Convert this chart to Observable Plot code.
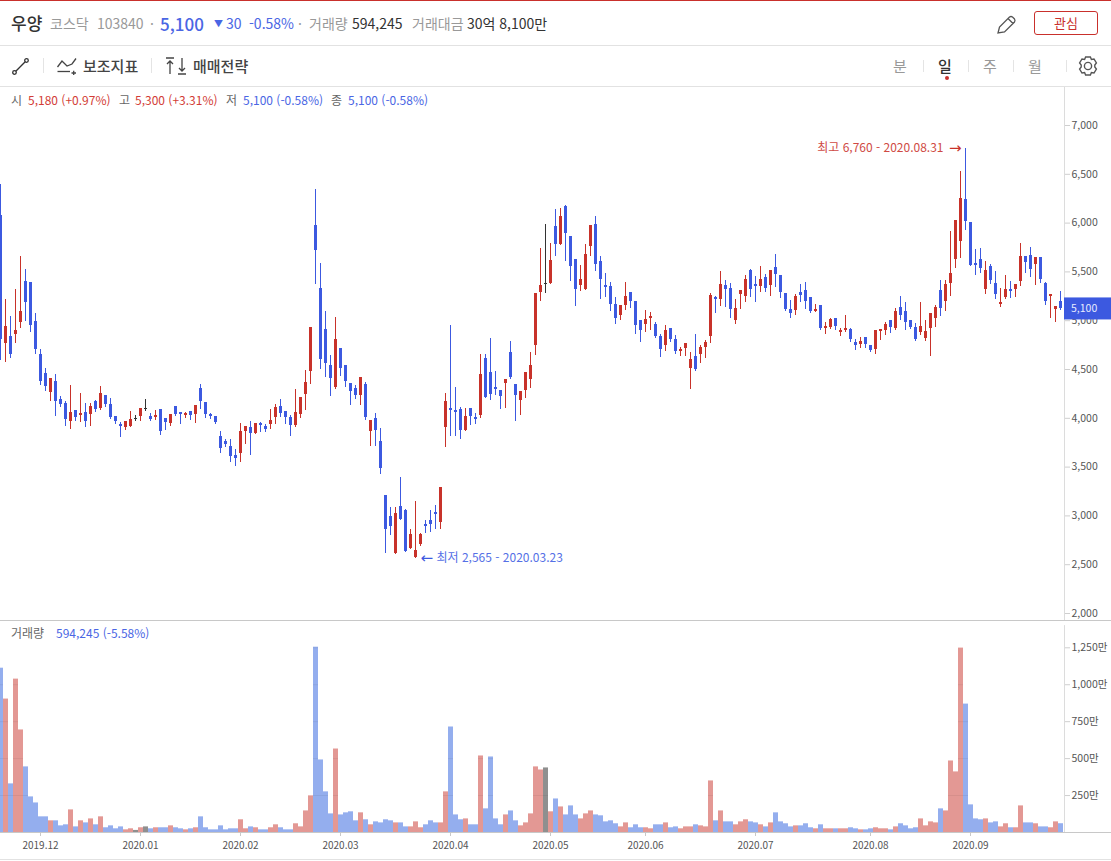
<!DOCTYPE html>
<html lang="ko">
<head>
<meta charset="utf-8">
<title>우양 일봉 차트</title>
<script src="https://cdn.jsdelivr.net/npm/d3@7"></script>
<script src="https://cdn.jsdelivr.net/npm/@observablehq/plot@0.6"></script>
<style>
html,body{margin:0;padding:0;background:#fff;}
body{width:1111px;height:861px;overflow:hidden;position:relative;font-family:"Noto Sans CJK KR","Noto Sans",sans-serif;}
#head{position:relative;height:87px;box-sizing:border-box;border-top:1px solid #c9302c;}
#head .l1{position:absolute;left:0;right:0;top:44px;height:1px;background:#e2e2e2;}
#head .l2{position:absolute;left:0;right:0;top:85px;height:1px;background:#e2e2e2;}
.t{position:absolute;white-space:nowrap;line-height:1;}
.sep{position:absolute;width:1px;height:15px;top:57px;background:#e4e4e4;}
.sep.s{height:12px;top:59px;}
.g{color:#999}.d{color:#333}.b{color:#4a66e4}.r{color:#d23c36}
.m{color:#666}
#btn{position:absolute;left:1034px;top:10px;width:62px;height:22px;border:1px solid #c9302c;border-radius:3px;color:#c9302c;font-size:13px;line-height:22px;text-align:center;}
#dot{position:absolute;left:945px;top:75px;width:4px;height:4px;border-radius:50%;background:#c9302c;}
svg.ic{position:absolute;overflow:visible;}
#ohlc,#vollab{position:absolute;z-index:2;font-size:12px;}
#price,#vol{display:block;line-height:0;}
#vol{border-top:1px solid #c8c8c8;border-bottom:1px solid #e2e2e2;}
</style>
</head>
<body>
<div id="head">
  <span class="t d" style="left:11px;top:13px;font-size:17px;font-weight:500">우양</span>
  <span class="t g" style="left:50px;top:15px;font-size:14px">코스닥</span>
  <span class="t g" style="left:97px;top:15px;font-size:14px">103840</span>
  <span class="t g" style="left:150px;top:15px;font-size:14px">·</span>
  <span class="t b" style="left:160px;top:14px;font-size:17px;font-weight:500">5,100</span>
  <span class="t b" style="left:214px;top:18px;font-size:9px">▼</span>
  <span class="t b" style="left:226px;top:15px;font-size:14px">30</span>
  <span class="t b" style="left:249px;top:15px;font-size:14px">-0.58%</span>
  <span class="t g" style="left:298px;top:15px;font-size:14px">·</span>
  <span class="t g" style="left:309px;top:15px;font-size:14px">거래량</span>
  <span class="t d" style="left:352px;top:15px;font-size:14px">594,245</span>
  <span class="t g" style="left:412px;top:15px;font-size:14px">거래대금</span>
  <span class="t d" style="left:467px;top:15px;font-size:14px">30억 8,100만</span>
  <svg class="ic" style="left:997px;top:14px" width="20" height="20" viewBox="0 0 20 20" fill="none" stroke="#555" stroke-width="1.3">
    <path d="M1 18 L2.5 12 L12.5 2 Q14 1 15.5 2 L17.5 4 Q18.5 5.5 17.5 7 L7.5 17 Z M11 3.5 L16 8.5"/>
  </svg>
  <div id="btn">관심</div>
  <div class="l1"></div>

  <svg class="ic" style="left:12px;top:57px" width="17" height="17" viewBox="0 0 17 17" fill="none" stroke="#333" stroke-width="1.3">
    <circle cx="2.5" cy="14.5" r="1.8"/><circle cx="14.5" cy="2.5" r="1.8"/><path d="M3.8 13.2 L13.2 3.8"/>
  </svg>
  <div class="sep" style="left:43px"></div>
  <svg class="ic" style="left:57px;top:57px" width="20" height="17" viewBox="0 0 20 17" fill="none" stroke="#444" stroke-width="1.3">
    <path d="M0.5 9 L5 3 L10 8 L15 6 L19 0.5"/><path d="M0.5 13.5 H13"/><path d="M14.5 15 H19 M16.7 12.8 V17"/>
  </svg>
  <span class="t" style="left:83px;top:57px;font-size:15px;font-weight:500;color:#444">보조지표</span>
  <div class="sep" style="left:151px"></div>
  <svg class="ic" style="left:165px;top:56px" width="22" height="18" viewBox="0 0 22 18" fill="none" stroke="#444" stroke-width="1.3">
    <path d="M1 1 H9 M5 17 V4 M2 7 L5 4 L8 7"/><path d="M13 17 H21 M17 1 V14 M14 11 L17 14 L20 11"/>
  </svg>
  <span class="t" style="left:193px;top:57px;font-size:15px;font-weight:500;color:#444">매매전략</span>

  <span class="t g" style="left:893px;top:57px;font-size:15px">분</span>
  <div class="sep s" style="left:923px"></div>
  <span class="t d" style="left:938px;top:57px;font-size:15px;font-weight:500">일</span>
  <div id="dot"></div>
  <div class="sep s" style="left:968px"></div>
  <span class="t g" style="left:983px;top:57px;font-size:15px">주</span>
  <div class="sep s" style="left:1013px"></div>
  <span class="t g" style="left:1028px;top:57px;font-size:15px">월</span>
  <div class="sep s" style="left:1066px"></div>
  <svg class="ic" style="left:1078px;top:55px" width="20" height="20" viewBox="0 0 20 20" fill="none" stroke="#555" stroke-width="1.4">
    <path d="M7.6 1 H12.4 L13.4 3.4 L16 3 L18.4 7 L16.8 9 V11 L18.4 13 L16 17 L13.4 16.6 L12.4 19 H7.6 L6.6 16.6 L4 17 L1.6 13 L3.2 11 V9 L1.6 7 L4 3 L6.6 3.4 Z"/>
    <circle cx="10" cy="10" r="3.6"/>
  </svg>
  <div class="l2"></div>
</div>

<div id="ohlc" style="left:0;top:87px;width:500px;height:26px">
  <span class="t m" style="left:11px;top:7px">시</span><span class="t r" style="left:28px;top:7px">5,180 (+0.97%)</span>
  <span class="t m" style="left:119px;top:7px">고</span><span class="t r" style="left:135px;top:7px">5,300 (+3.31%)</span>
  <span class="t m" style="left:226px;top:7px">저</span><span class="t b" style="left:243px;top:7px">5,100 (-0.58%)</span>
  <span class="t m" style="left:331px;top:7px">종</span><span class="t b" style="left:348px;top:7px">5,100 (-0.58%)</span>
</div>
<div id="price"></div>
<div id="vollab" style="left:0;top:621px;width:300px;height:26px">
  <span class="t m" style="left:11px;top:6px">거래량</span><span class="t b" style="left:56px;top:6px">594,245 (-5.58%)</span>
</div>
<div id="vol"></div>

<script>
// 시가 / 고가 / 저가 / 종가 (원), 거래량 (만주) — 일봉 213개
const opens = [
6078,4767,4838,4859,4982,5402,5392,4992,4654,4459,
4265,4377,4193,4152,3967,4080,4029,4060,4039,4172,
4101,4234,4142,4019,3937,3906,3916,3995,4019,4097,
4019,4008,4090,3998,3947,4121,4060,4029,4070,4039,
4306,4162,4039,4019,3814,3763,3711,3619,3640,3865,
3906,3845,3947,3916,3937,4008,4121,4070,4008,3927,
4039,4244,4480,5975,5330,4910,4541,4316,4715,4541,
4357,4306,4234,4347,3865,3998,3763,3209,2994,2615,
3097,3056,2666,2574,2707,2912,2953,3035,2933,3906,
4101,4080,4090,3875,4101,4008,4029,4613,4469,4316,
4285,4357,4674,4347,4183,4285,4398,4746,5289,5378,
5381,5965,5781,6170,5863,5627,5361,5320,5760,5986,
5607,5361,5350,5166,5053,5156,5289,5197,5002,4961,
5023,4961,4838,4746,4920,4807,4685,4715,4510,4633,
4654,4726,4838,5238,5217,5361,5330,5002,5269,5248,
5514,5371,5350,5443,5361,5545,5463,5279,5115,5105,
5289,5310,5238,5095,5156,4920,4931,5023,4880,4900,
4910,4777,4757,4828,4746,4705,4890,4900,5002,4920,
5136,5095,5002,4931,4880,4818,4920,5023,5310,5197,
5381,5627,5812,6242,6006,5586,5627,5320,5556,5381,
5166,5238,5320,5320,5402,5658,5668,5576,5648,5381,
5248,5115,5197];
const highs = [
6396,5217,5043,5320,5658,5525,5392,5074,4705,4510,
4408,4449,4224,4172,4336,4080,4254,4152,4152,4183,
4326,4234,4203,4019,3957,3967,4070,4029,4101,4193,
4049,4080,4090,3998,4039,4121,4060,4060,4070,4131,
4347,4162,4049,4019,3865,3783,3783,3681,3947,3916,
3967,3947,3957,3937,4090,4142,4193,4070,4029,4295,
4213,4490,4931,6344,5586,5094,4644,5033,4715,4541,
4357,4336,4418,4367,3978,4049,3896,3209,3086,3086,
3394,3066,2861,3148,2820,2953,3056,3107,3291,4254,
4951,4316,4111,4101,4101,4049,4654,4654,4818,4480,
4285,4398,4787,4347,4275,4469,4674,5279,5740,5986,
5791,6139,6150,6180,5863,5627,5566,5781,5975,6068,
5658,5484,5391,5238,5156,5391,5289,5197,5002,5105,
5084,4982,4859,4951,4920,4848,4726,4767,4674,4859,
4746,4797,5279,5248,5504,5412,5381,5217,5309,5463,
5525,5453,5555,5473,5514,5678,5463,5279,5207,5269,
5371,5392,5238,5166,5156,4982,5023,5023,4920,5054,
4920,4808,4828,4828,4746,4900,4910,4982,5002,5125,
5248,5187,5002,4972,5187,5002,5074,5156,5412,5412,
5914,6027,6529,6760,6006,5730,5740,5607,5576,5504,
5330,5463,5402,5371,5791,5658,5750,5648,5648,5392,
5269,5146,5300];
const lows = [
4592,4572,4613,4767,4920,4992,4879,4654,4336,4275,
4172,4019,4111,3916,3886,3967,3957,3906,3916,4060,
4080,4111,3988,3937,3804,3875,3906,3967,3967,4070,
3967,3978,3824,3875,3916,4019,3937,3998,3978,3947,
4090,3998,3988,3937,3640,3701,3547,3506,3547,3732,
3619,3834,3855,3855,3886,3937,4008,3937,3814,3906,
3998,4080,4347,5371,4500,4418,4224,4295,4429,4316,
4131,4193,4131,3978,3711,3711,3425,2615,2800,2605,
2953,2625,2656,2565,2687,2820,2830,2861,2861,3701,
3814,3814,3783,3865,3927,3937,3998,4203,4183,4234,
4090,4101,4398,3967,4029,4203,4306,4644,5197,5279,
5371,5658,5770,5607,5402,5146,5299,5309,5658,5504,
5217,5238,5094,4961,5002,5105,5125,4859,4777,4879,
4900,4818,4623,4685,4777,4654,4633,4633,4295,4480,
4562,4613,4767,5074,5146,5135,5023,4961,5115,5187,
5238,5187,5289,5289,5248,5340,5228,5094,5023,5054,
5187,5115,5074,5084,4900,4859,4910,4900,4839,4880,
4777,4695,4716,4716,4675,4654,4798,4849,4869,4900,
5002,4900,4910,4787,4849,4787,4634,4931,5043,5095,
5248,5535,5638,5925,5556,5463,5484,5269,5371,5218,
5136,5218,5228,5238,5351,5484,5443,5361,5381,5156,
5023,4982,5105];
const closes = [
4808,4941,4654,4900,5094,5187,4951,4705,4377,4326,
4408,4172,4142,3988,4060,4008,4049,3967,4121,4090,
4254,4142,4008,3967,3916,3967,3988,3995,4101,4097,
3988,4029,3865,3957,4039,4039,4039,4049,4029,4131,
4172,4039,4019,3957,3691,3732,3609,3588,3865,3916,
3845,3947,3927,3886,3978,4111,4049,4008,3927,4060,
4213,4367,4931,5719,4603,4562,4408,4808,4510,4377,
4275,4234,4418,4008,3978,3875,3486,2861,2892,3025,
2963,2636,2810,2646,2810,2892,2912,3015,3291,4172,
4080,4060,3875,4019,4019,3988,4449,4213,4244,4295,
4224,4398,4418,4234,4275,4469,4541,5279,5361,5378,
5617,5781,6068,5893,5555,5320,5422,5678,5975,5576,
5422,5340,5166,5023,5156,5248,5197,4951,4900,5012,
5043,4838,4705,4900,4807,4685,4705,4767,4603,4500,
4726,4777,5258,5217,5371,5320,5115,5125,5309,5422,
5320,5350,5422,5330,5514,5473,5289,5115,5074,5248,
5259,5197,5095,5115,4920,4941,5013,4941,4900,4920,
4808,4746,4787,4757,4695,4900,4910,4961,4931,5095,
5054,4982,4931,4808,4941,4890,5074,5136,5125,5371,
5484,6027,6252,6017,5566,5566,5535,5515,5412,5269,
5187,5320,5300,5371,5658,5597,5525,5648,5423,5197,
5269,5146,5125];
const volumes = [
1112,903,329,1038,694,444,241,200,106,106,
79,79,45,52,153,38,79,65,92,52,
106,32,45,25,38,18,25,14,32,38,
25,32,32,32,45,32,25,18,25,32,
106,32,18,18,45,18,25,25,86,25,
38,32,18,18,32,52,32,18,18,59,
38,146,248,1254,491,275,126,565,119,133,
140,79,133,86,52,72,65,86,79,65,
65,38,38,72,32,52,79,65,65,275,
714,119,86,92,52,52,518,160,511,92,
52,119,146,79,45,65,126,444,423,437,
140,227,173,119,180,119,92,126,146,119,
113,72,79,59,38,65,32,52,32,32,
25,52,52,65,32,38,25,38,38,52,
45,38,349,79,146,72,72,52,72,86,
72,65,52,38,65,133,72,59,38,45,
45,59,32,25,52,25,25,25,25,25,
32,25,18,18,25,32,25,25,18,38,
59,45,25,32,92,45,72,65,160,146,
484,410,1248,869,187,92,86,92,65,72,
38,59,32,32,180,65,65,59,38,38,
32,72,59.4];
const monthTicks = [8,28,48,68,90,110,129,151,174,194];
const monthLabels = ["2019.12","2020.01","2020.02","2020.03","2020.04","2020.05","2020.06","2020.07","2020.08","2020.09"];
const priceTicks = [2000,2500,3000,3500,4000,4500,5000,5500,6000,6500,7000];
const volumeTicks = [250,500,750,1000,1250];
const lastPrice = 5100;
const highMark = {i:193, value:6760, label:"최고 6,760 - 2020.08.31", arrow:"→"};
const lowMark = {i:83, value:2565, label:"최저 2,565 - 2020.03.23", arrow:"←"};

const RED="#c8322a", BLUE="#3c59e0", BLK="#333333";
const FONT='"Noto Sans CJK KR","Noto Sans",sans-serif';
const rows = opens.map((o,i)=>({i,open:o,high:highs[i],low:lows[i],close:closes[i],vol:volumes[i]}));
const ups = rows.filter(d=>d.close>d.open), downs = rows.filter(d=>d.close<d.open), flats = rows.filter(d=>d.close===d.open);
const lastX = 212.8, rightEdge = 222.2;

function candleMarks(data,color){
  return [
    Plot.ruleX(data,{x:"i",y1:"low",y2:"high",stroke:color,strokeWidth:1,shapeRendering:"crispEdges"}),
    Plot.ruleX(data,{x:"i",y1:"open",y2:"close",stroke:color,strokeWidth:3,strokeLinecap:"butt",shapeRendering:"crispEdges"})
  ];
}
const priceChart = Plot.plot({
  width:1111,height:533,marginLeft:0,marginRight:47,marginTop:0,marginBottom:0,
  style:{fontFamily:FONT,fontSize:"11px",background:"transparent",overflow:"visible"},
  x:{domain:[0,lastX],range:[0,1064],axis:null},
  y:{domain:[2000,7000],range:[526,38],axis:null},
  marks:[
    Plot.ruleX([lastX],{stroke:"#dcdcdc"}),
    ...candleMarks(ups,RED),
    ...candleMarks(downs,BLUE),
    ...candleMarks(flats,BLK),
    Plot.ruleY(flats,{y:"close",x1:d=>d.i-0.2,x2:d=>d.i+0.4,stroke:BLK,shapeRendering:"crispEdges"}),
    Plot.text([highMark],{x:"i",y:"value",text:"label",textAnchor:"end",dx:-22,dy:-1,fill:"#cf4a44",fontSize:12}),
    Plot.text([highMark],{x:"i",y:"value",text:"arrow",textAnchor:"end",dx:-4,dy:-1,fill:"#c8322a",fontSize:15,fontFamily:"DejaVu Sans"}),
    Plot.text([lowMark],{x:"i",y:"value",text:"label",textAnchor:"start",dx:21,dy:0,fill:"#5570e6",fontSize:12}),
    Plot.text([lowMark],{x:"i",y:"value",text:"arrow",textAnchor:"start",dx:5,dy:0,fill:"#3c59e0",fontSize:15,fontFamily:"DejaVu Sans"}),
    Plot.axisY({anchor:"right",ticks:priceTicks,tickFormat:d3.format(","),tickSize:5,tickPadding:2,label:null,color:"#555",stroke:"#cfcfcf",fontSize:10.5}),
    (index,scales)=>{
      const cy=scales.y(lastPrice)-2;
      const g=d3.create("svg:g");
      g.append("rect").attr("x",1064).attr("y",cy-11).attr("width",47).attr("height",22).attr("fill",BLUE);
      g.append("text").attr("x",1071).attr("y",cy+4).attr("fill","#e8ecff").attr("font-size",10.5).attr("text-anchor","start").text(d3.format(",")(lastPrice));
      return g.node();
    }
  ]
});
document.getElementById("price").append(priceChart);

function volMark(data,color,op){
  return Plot.rectY(data,{x1:d=>d.i-0.4,x2:d=>d.i+0.6,y1:0,y2:"vol",fill:color,fillOpacity:op});
}
const gridHits = volumeTicks.flatMap(t=>rows.filter(d=>d.vol>t).map(d=>({i:d.i,t})));
const volChart = Plot.plot({
  width:1111,height:238,marginLeft:0,marginRight:47,marginTop:0,marginBottom:27,
  style:{fontFamily:FONT,fontSize:"11px",background:"transparent",overflow:"visible"},
  x:{domain:[0,lastX],range:[0,1064],axis:null},
  y:{domain:[0,1250],range:[211,26.3],axis:null},
  marks:[
    Plot.ruleX([lastX],{y1:0,y2:1400,stroke:"#dcdcdc"}),
    volMark(ups,"#c8322a",0.5),
    volMark(downs,"#3c6be0",0.55),
    volMark(flats,"#333333",0.55),
    Plot.ruleY(gridHits,{y:"t",x1:d=>d.i-0.4,x2:d=>d.i+0.6,stroke:"#000",strokeOpacity:0.06}),
    Plot.ruleY([0],{x1:0,x2:rightEdge,stroke:"#c8c8c8"}),
    Plot.axisX({anchor:"bottom",ticks:monthTicks,tickFormat:d=>monthLabels[monthTicks.indexOf(d)],tickSize:4,tickPadding:5,label:null,color:"#555",stroke:"#c8c8c8",fontSize:10}),
    Plot.axisY({anchor:"right",ticks:volumeTicks,tickFormat:d=>d3.format(",")(d)+"만",tickSize:5,tickPadding:2,label:null,color:"#555",stroke:"#cfcfcf",fontSize:10.5})
  ]
});
document.getElementById("vol").append(volChart);
</script>
</body>
</html>
